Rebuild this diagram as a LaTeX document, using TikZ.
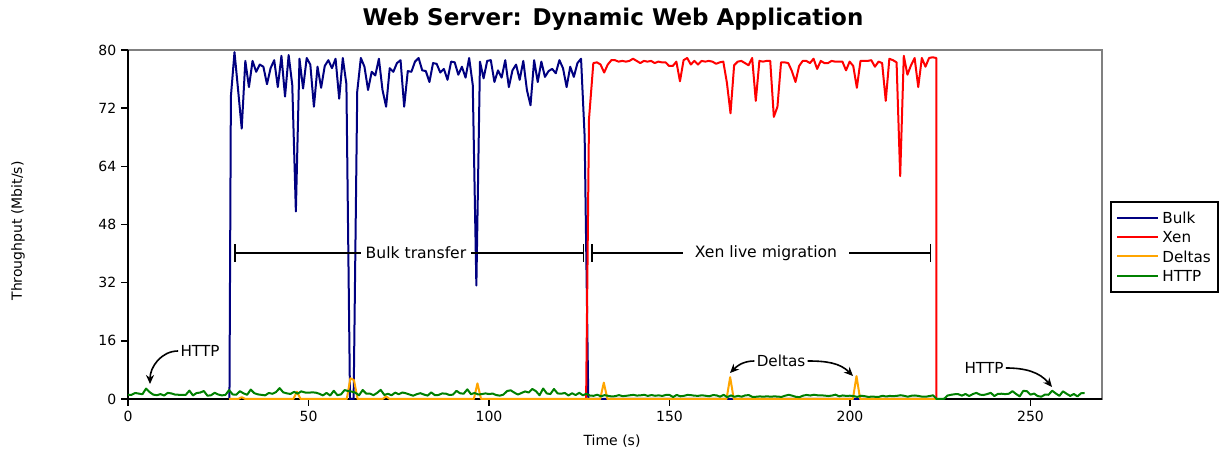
\documentclass[tikz,border=0pt]{standalone}
\usepackage{fontspec}
\setmainfont{DejaVu Sans}
\usetikzlibrary{arrows.meta,positioning}

\definecolor{bulkblue}{RGB}{0,0,128}
\definecolor{xenred}{RGB}{255,0,0}
\definecolor{deltaorange}{RGB}{255,165,0}
\definecolor{httpgreen}{RGB}{0,128,0}

\tikzset{
  ticklabel/.style={font=\fontsize{7}{8}\selectfont, inner sep=2pt},
  keylabel/.style={font=\fontsize{7.6}{9}\selectfont, inner sep=2pt},
  series/.style={line width=1pt, line join=round},
  bulkline/.style={series, draw=bulkblue},
  xenline/.style={series, draw=xenred},
  deltaline/.style={series, draw=deltaorange},
  httpline/.style={series, draw=httpgreen},
  intervalbar/.style={line width=0.75pt, {Bar[width=9pt]}-{Bar[width=9pt]}},
  spanlabel/.style={fill=white, inner sep=2.5pt, font=\fontsize{7.8}{9}\selectfont},
  annotext/.style={font=\fontsize{7.6}{9}\selectfont, inner sep=1pt},
  annoarrow/.style={line width=0.8pt, -{Stealth[length=4.5pt,width=4pt]}},
}

\begin{document}
\begin{tikzpicture}[x=0.5pt, y=0.5pt,
  declare function={ym(\v)=ifthenelse(\v>64,4+(\v-64)/8,\v/16);}]
\useasboundingbox (0,0) rectangle (1220,454);

% title and axis labels
\node[font=\bfseries\fontsize{11.5}{13}\selectfont] (title) at (613,435) {Web Server: Dynamic Web Application};
\node[ticklabel, rotate=90] (ylabel) at (18,223) {Throughput (Mbit/s)};
\node[ticklabel] (xlabel) at (612,13) {Time (s)};

% frame and ticks
\draw[gray, line width=0.75pt] (128,55) rectangle (1102,404);
\draw[line width=0.75pt] (128,404) -- (128,55) -- (1102,55);
\foreach \lab [count=\i from 0] in {0,16,32,48,64,72,80}
  \draw[line width=0.75pt] (128,{55+\i*58.17}) -- ++(-7,0) node[ticklabel, left] (ytick\i) {\lab};
\foreach \t in {0,50,...,250}
  \draw[line width=0.75pt] ({128+\t*3.61},55) -- ++(0,-7) node[ticklabel, below] (xtick\t) {\t};

% data
\begin{scope}[xshift=64pt, yshift=27.5pt, x=1.805pt, y=29.083pt]
\draw[bulkline] (28.1,0) \foreach \v [count=\k from 0] in {73.6,79.7,74.5,69.2,78.5,74.9,78.5,77.0,78.0,77.7,
  75.3,77.5,78.6,74.9,79.2,73.6,79.3,75.2,51.6,78.8,74.7,78.9,78.0,72.2,77.7,74.8,77.8,78.6,77.5,78.8,
  73.3,78.9,75.3,0,0,74.3,78.9,77.7,74.5,77.0,76.5,78.8,74.5,72.2,77.5,77.0,78.2,78.6,72.2,77.1,
  77.0,78.4,78.9,77.2,77.1,75.6,78.2,78.1,76.9,77.4,75.9,78.4,78.3,76.6,77.7,76.2,78.9,75.2,31.2,78.4,
  76.1,78.5,78.6,75.6,77.2,76.2,78.6,74.9,77.2,78.0,75.9,78.5,74.5,72.4,78.6,75.6,78.4,76.3,77.1,77.4,
  76.8,78.6,77.5,74.9,77.7,76.3,78.2,78.8,68,0} { -- ({28.5+\k},{ym(\v)}) } -- (223.8,0);
\draw[xenline] (126.9,0) -- (127.7,{ym(70.5)}) \foreach \v [count=\k from 0] in {78.2,78.3,78.0,76.9,78.0,78.6,78.6,78.4,78.5,78.4,
  78.5,78.8,78.5,78.2,78.5,78.4,78.5,78.2,78.4,78.3,78.3,77.8,77.8,78.4,75.7,78.6,78.9,78.0,78.5,78.0,
  78.5,78.4,78.5,78.4,78.1,78.3,78.4,75.5,71.3,77.9,78.4,78.5,78.2,77.9,78.9,73.0,78.5,78.4,78.5,78.5,
  70.8,72.2,78.3,78.3,78.2,77.1,75.6,77.8,78.5,78.5,78.2,78.8,77.4,78.5,78.2,78.2,78.5,78.4,78.4,78.4,
  77.2,78.4,77.8,74.8,78.5,78.5,78.5,78.6,77.7,78.4,78.2,73.0,78.8,78.6,78.3,61.3,79.2,76.6,77.9,78.9,
  74.9,78.9,77.7,78.9,79.0,78.9} { -- ({128.9+\k},{ym(\v)}) } -- (223.9,0);
\draw[deltaline] (28,0) \foreach \t/\v in {30.5/0,31.5/0.5,32.5/0,45.8/0,46.8/2.0,47.8/0,60.6/0,61.6/5.7,62.6/5.2,63.6/0,
  70.5/0,71.5/0.7,72.5/0,95.8/0,96.8/4.3,97.8/0,130.8/0,131.8/4.5,132.8/0,165.8/0,166.8/6.0,167.8/0,
  200.8/0,201.8/6.3,202.8/0,223.8/0} { -- (\t,{\v/16}) };
\pgfmathsetseed{2718}
\draw[httpline] (0,{1.1/16}) \foreach \t [evaluate=\t as \h using {(\t<128) ? 0.9+0.9*rnd+1.6*rnd^5 : ((\t<224) ? 0.5+0.7*rnd : ((\t<227) ? 0 : 0.6+1.0*rnd+1.0*rnd^5))}] in {1,...,265} { -- (\t,{\h/16}) };
\end{scope}

% annotations
\coordinate (bulkstart) at (234,201);
\coordinate (bulkend) at (584,201);
\coordinate (xenstart) at (591,201);
\coordinate (xenend) at (931,201);
\draw[intervalbar] (bulkstart) -- (bulkend);
\draw[intervalbar] (xenstart) -- (xenend);
\node[spanlabel] (bulklabel) at (416,201) {Bulk transfer};
\node[spanlabel, inner xsep=6pt] (xenlabel) at (766,201) {Xen live migration};

\node[annotext] (httpleft) at (200,103) {HTTP};
\coordinate (httplefttip) at (150,70);
\draw[annoarrow] (httpleft.west) to[out=180,in=90] (httplefttip);

\node[annotext] (deltalabel) at (781,93) {Deltas};
\coordinate (deltatipA) at (730,81);
\coordinate (deltatipB) at (853,78);
\draw[annoarrow] (deltalabel.west) to[out=180,in=45] (deltatipA);
\draw[annoarrow] (deltalabel.east) to[out=0,in=135] (deltatipB);

\node[annotext] (httpright) at (984,86) {HTTP};
\coordinate (httprighttip) at (1052,67);
\draw[annoarrow] (httpright.east) to[out=0,in=130] (httprighttip);

% legend
\draw[line width=0.6pt] (1111,162) rectangle (1218,252);
\foreach \name/\sty [count=\i from 0] in {Bulk/bulkline, Xen/xenline, Deltas/deltaline, HTTP/httpline} {
  \draw[\sty] (1117,{235.7-\i*19.1}) -- ++(41,0) coordinate (key\i);
  \node[keylabel, right=0pt of key\i] (legend\i) {\name};
}
\end{tikzpicture}
\end{document}
